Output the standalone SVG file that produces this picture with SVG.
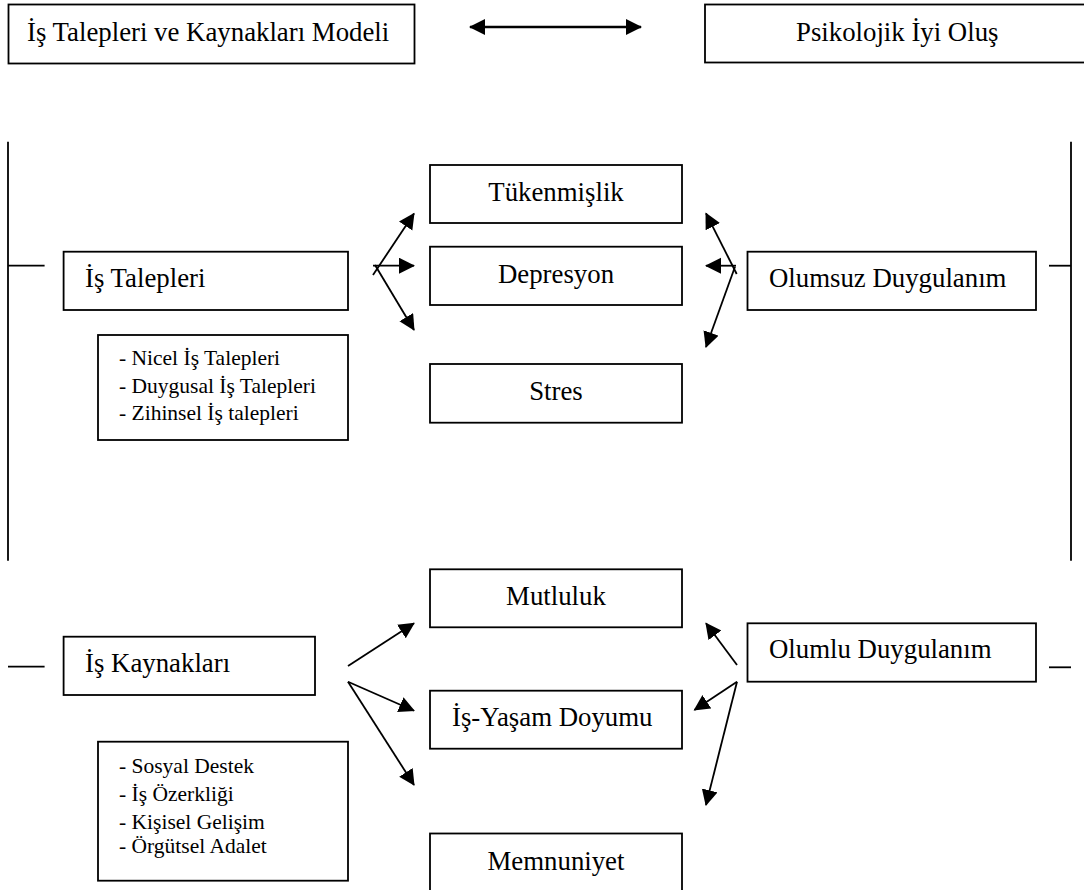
<svg xmlns="http://www.w3.org/2000/svg" width="1084" height="890" viewBox="0 0 1084 890">
<style>
.box{fill:#fff;stroke:#000;stroke-width:1.8}
.t{font-family:"Liberation Serif","Times New Roman",serif;font-size:26.8px;fill:#000}
.c{text-anchor:middle}
.s{font-family:"Liberation Serif","Times New Roman",serif;font-size:21.5px;fill:#000}
.ln{stroke:#000;stroke-width:1.8;fill:none}
.ar{stroke:#000;stroke-width:1.8;fill:none;marker-end:url(#ah)}
</style>
<defs>
<marker id="ah" markerUnits="userSpaceOnUse" markerWidth="17" markerHeight="17" refX="15" refY="8" orient="auto">
<path d="M0,0 L16,8 L0,16 z" fill="#000"/>
</marker>
<marker id="ahs" markerUnits="userSpaceOnUse" markerWidth="17" markerHeight="17" refX="15" refY="8" orient="auto-start-reverse">
<path d="M0,0 L16,8 L0,16 z" fill="#000"/>
</marker>
</defs>
<rect width="1084" height="890" fill="#fff"/>

<g id="model">
<rect class="box" x="8.5" y="4.5" width="406" height="59"/>
<text class="t" x="27" y="41">İş Talepleri ve Kaynakları Modeli</text>
</g>
<g id="iyi-olus">
<rect class="box" x="705" y="4.5" width="400" height="58"/>
<text class="t" x="796" y="41">Psikolojik İyi Oluş</text>
</g>

<g id="is-talepleri">
<rect class="box" x="63.6" y="251.7" width="284.4" height="58.3"/>
<text class="t" x="85" y="287">İş Talepleri</text>
</g>
<g id="talep-listesi">
<rect class="box" x="98" y="335" width="250" height="105"/>
<text class="s" x="119" y="365">- Nicel İş Talepleri</text>
<text class="s" x="119" y="393">- Duygusal İş Talepleri</text>
<text class="s" x="119" y="420">- Zihinsel İş talepleri</text>
</g>
<g id="tukenmislik">
<rect class="box" x="430" y="165" width="252" height="58"/>
<text class="t c" x="556" y="201">Tükenmişlik</text>
</g>
<g id="depresyon">
<rect class="box" x="430" y="246.7" width="252" height="58.3"/>
<text class="t c" x="556" y="283">Depresyon</text>
</g>
<g id="stres">
<rect class="box" x="430" y="364" width="252" height="58.7"/>
<text class="t c" x="556" y="400">Stres</text>
</g>
<g id="olumsuz">
<rect class="box" x="747.5" y="251.7" width="288.5" height="58.3"/>
<text class="t" x="769" y="287">Olumsuz Duygulanım</text>
</g>

<g id="is-kaynaklari">
<rect class="box" x="63.6" y="636.7" width="251.4" height="58.3"/>
<text class="t" x="85" y="672">İş Kaynakları</text>
</g>
<g id="kaynak-listesi">
<rect class="box" x="98" y="741.7" width="250" height="139"/>
<text class="s" x="119" y="773">- Sosyal Destek</text>
<text class="s" x="119" y="801">- İş Özerkliği</text>
<text class="s" x="119" y="829">- Kişisel Gelişim</text>
<text class="s" x="119" y="853">- Örgütsel Adalet</text>
</g>
<g id="mutluluk">
<rect class="box" x="430" y="569.3" width="252" height="58"/>
<text class="t c" x="556" y="605">Mutluluk</text>
</g>
<g id="is-yasam">
<rect class="box" x="430" y="690.7" width="252" height="58"/>
<text class="t" x="452" y="726">İş-Yaşam Doyumu</text>
</g>
<g id="memnuniyet">
<rect class="box" x="430" y="833.5" width="252" height="70"/>
<text class="t c" x="556" y="870">Memnuniyet</text>
</g>
<g id="olumlu">
<rect class="box" x="747.5" y="623.3" width="288.5" height="58.4"/>
<text class="t" x="769" y="658">Olumlu Duygulanım</text>
</g>

<g id="connectors">
<line x1="470" y1="27" x2="641" y2="27" class="ln" style="stroke-width:2.6" marker-start="url(#ahs)" marker-end="url(#ahs)"/>
<line class="ln" x1="8" y1="141.7" x2="8" y2="560.7"/>
<line class="ln" x1="8" y1="265.7" x2="44.6" y2="265.7"/>
<line class="ln" x1="8" y1="666.7" x2="44.6" y2="666.7"/>
<line class="ln" x1="1071" y1="141.7" x2="1071" y2="560.7"/>
<line class="ln" x1="1049" y1="265.7" x2="1071" y2="265.7"/>
<line class="ln" x1="1049" y1="667.3" x2="1071" y2="667.3"/>

<line class="ar" x1="373" y1="275" x2="414" y2="213.5"/>
<line class="ar" x1="373" y1="265.7" x2="414" y2="265.7"/>
<line class="ar" x1="375" y1="265" x2="414" y2="330"/>

<line class="ar" x1="736.7" y1="274" x2="706" y2="213.3"/>
<line class="ar" x1="736" y1="265.7" x2="706" y2="265.7"/>
<line class="ar" x1="735" y1="266.7" x2="706" y2="347"/>

<line class="ar" x1="348" y1="666" x2="414" y2="623.3"/>
<line class="ar" x1="348" y1="681.7" x2="414" y2="710.7"/>
<line class="ar" x1="348" y1="681.7" x2="414" y2="785"/>

<line class="ar" x1="737" y1="665" x2="706" y2="623.3"/>
<line class="ar" x1="737" y1="681.7" x2="694.4" y2="710"/>
<line class="ar" x1="737" y1="681.7" x2="706" y2="805"/>
</g>
</svg>
